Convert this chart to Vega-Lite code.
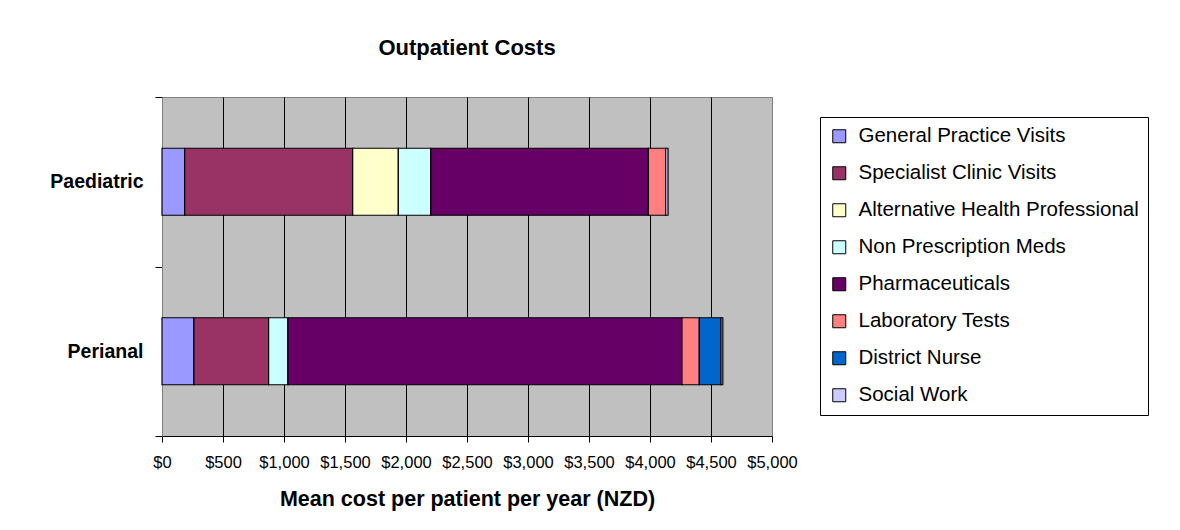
{
  "$schema": "https://vega.github.io/schema/vega-lite/v6.json",
  "width": 610,
  "height": 339,
  "autosize": {"type": "none"},
  "padding": {"left": 162, "top": 97, "right": 408, "bottom": 94},
  "background": "white",
  "title": {"text": "Outpatient Costs", "fontSize": 22, "font": "Liberation Sans", "fontWeight": "bold", "color": "black", "offset": 27, "anchor": "middle"},
  "data": {
    "values": [
      {"group": "Paediatric", "category": "General Practice Visits", "idx": 1, "cost": 186},
      {"group": "Paediatric", "category": "Specialist Clinic Visits", "idx": 2, "cost": 1377},
      {"group": "Paediatric", "category": "Alternative Health Professional", "idx": 3, "cost": 374},
      {"group": "Paediatric", "category": "Non Prescription Meds", "idx": 4, "cost": 266},
      {"group": "Paediatric", "category": "Pharmaceuticals", "idx": 5, "cost": 1784},
      {"group": "Paediatric", "category": "Laboratory Tests", "idx": 6, "cost": 141},
      {"group": "Paediatric", "category": "District Nurse", "idx": 7, "cost": 0},
      {"group": "Paediatric", "category": "Social Work", "idx": 8, "cost": 20},
      {"group": "Perianal", "category": "General Practice Visits", "idx": 1, "cost": 262},
      {"group": "Perianal", "category": "Specialist Clinic Visits", "idx": 2, "cost": 612},
      {"group": "Perianal", "category": "Alternative Health Professional", "idx": 3, "cost": 0},
      {"group": "Perianal", "category": "Non Prescription Meds", "idx": 4, "cost": 158},
      {"group": "Perianal", "category": "Pharmaceuticals", "idx": 5, "cost": 3230},
      {"group": "Perianal", "category": "Laboratory Tests", "idx": 6, "cost": 142},
      {"group": "Perianal", "category": "District Nurse", "idx": 7, "cost": 178},
      {"group": "Perianal", "category": "Social Work", "idx": 8, "cost": 15}
    ]
  },
  "mark": {"type": "bar", "stroke": "black", "strokeWidth": 1.2, "height": {"band": 0.395}},
  "encoding": {
    "y": {
      "field": "group", "type": "nominal", "sort": ["Paediatric", "Perianal"],
      "scale": {"paddingInner": 0, "paddingOuter": 0},
      "axis": {
        "title": null, "labelFont": "Liberation Sans", "labelFontSize": 19.5, "labelFontWeight": "bold",
        "labelColor": "black", "labelPadding": 12, "tickBand": "extent", "tickColor": "black",
        "tickSize": 7, "domainColor": "#808080", "grid": false
      }
    },
    "x": {
      "field": "cost", "type": "quantitative", "stack": "zero",
      "scale": {"domain": [0, 5000], "nice": false},
      "axis": {
        "title": "Mean cost per patient per year (NZD)",
        "values": [0, 500, 1000, 1500, 2000, 2500, 3000, 3500, 4000, 4500, 5000],
        "format": "$,.0f", "labelFont": "Liberation Sans", "labelFontSize": 16.5, "labelColor": "black",
        "labelOverlap": false, "labelBound": false, "labelFlush": false,
        "labelPadding": 12, "tickColor": "black", "tickSize": 6, "domainColor": "black",
        "grid": true,
        "gridColor": {"condition": {"test": "datum.value == 5000", "value": "#808080"}, "value": "black"},
        "gridOpacity": 1, "gridWidth": 1,
        "titleFont": "Liberation Sans", "titleFontSize": 21.5, "titleFontWeight": "bold", "titleColor": "black",
        "titlePadding": 18
      }
    },
    "color": {
      "field": "category", "type": "nominal",
      "scale": {
        "domain": ["General Practice Visits", "Specialist Clinic Visits", "Alternative Health Professional", "Non Prescription Meds", "Pharmaceuticals", "Laboratory Tests", "District Nurse", "Social Work"],
        "range": ["#9999FF", "#993366", "#FFFFCC", "#CCFFFF", "#660066", "#FF8080", "#0066CC", "#CCCCFF"]
      },
      "legend": {
        "title": null, "orient": "none", "legendX": 658, "legendY": 20,
        "strokeColor": "black", "fillColor": "white", "padding": 9,
        "symbolType": "square", "symbolSize": 169, "symbolStrokeColor": "black", "symbolStrokeWidth": 1,
        "symbolOpacity": 1,
        "labelFont": "Liberation Sans", "labelFontSize": 20.5, "labelColor": "black", "labelOffset": 9,
        "rowPadding": 16, "labelLimit": 400
      }
    },
    "order": {"field": "idx", "type": "quantitative"}
  },
  "config": {
    "view": {"fill": "#C0C0C0", "stroke": "#808080", "strokeWidth": 1}
  }
}
